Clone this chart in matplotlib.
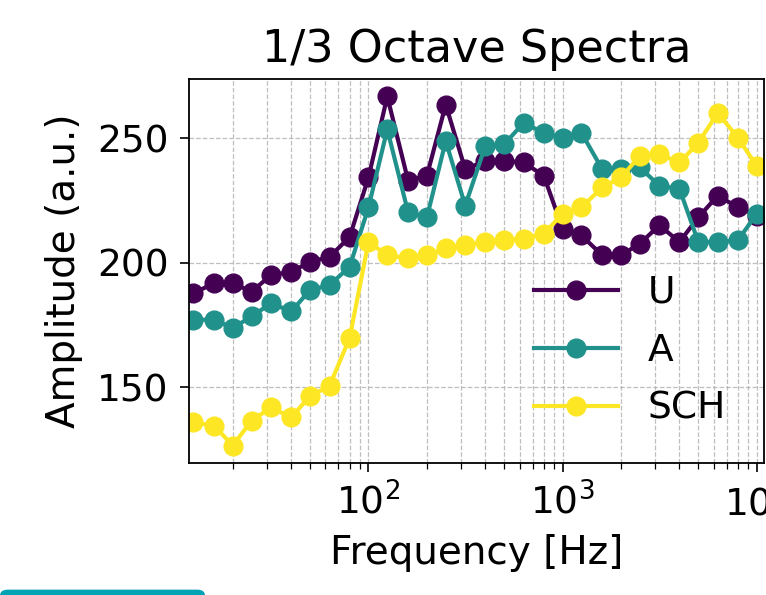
import numpy as np
import matplotlib
matplotlib.use("Agg")
import matplotlib.pyplot as plt
from matplotlib.patches import FancyBboxPatch

# 1/3 octave band centre frequencies
freqs = [12.5, 16, 20, 25, 31.5, 40, 50, 63, 80, 100, 125, 160, 200, 250, 315,
         400, 500, 630, 800, 1000, 1250, 1600, 2000, 2500, 3150, 4000, 5000,
         6300, 8000, 10000]

amp_u = [187.7, 191.7, 191.7, 188.4, 195.0, 196.3, 200.3, 202.3, 210.3, 234.2,
         266.7, 232.9, 234.9, 263.4, 237.5, 240.8, 240.8, 240.2, 234.9, 213.6,
         210.9, 203.0, 203.0, 207.6, 215.0, 208.3, 218.2, 226.9, 222.2, 218.9]
amp_a = [177.1, 177.1, 173.8, 178.4, 183.7, 180.4, 189.0, 191.0, 198.3, 222.2,
         253.5, 220.2, 218.2, 248.8, 222.9, 246.8, 247.5, 256.1, 252.1, 250.1,
         252.1, 237.5, 237.5, 238.2, 230.9, 229.6, 208.3, 208.3, 209.0, 219.6]
amp_sch = [135.9, 134.6, 126.6, 136.6, 141.9, 137.9, 146.5, 150.5, 169.8, 208.3,
           203.0, 201.7, 203.0, 205.7, 207.0, 208.3, 209.0, 209.6, 211.6, 219.6,
           222.2, 230.2, 234.2, 242.8, 243.5, 240.2, 248.1, 260.1, 250.1, 238.8]

labels = ["U", "A", "SCH"]
colors = ["#440154", "#21918c", "#fde725"]

plt.rcParams['font.size'] = 27

fig = plt.figure(figsize=(7.66, 5.95), dpi=100)
ax = fig.add_axes([189/766, 1 - 463/595, (764 - 189)/766, (463 - 79)/595])

for y, lab, c in zip([amp_u, amp_a, amp_sch], labels, colors):
    ax.plot(freqs, y, '-o', color=c, label=lab, lw=3, ms=13.5)

ax.set_xscale('log')
ax.set_xlim(11.9, 10900)
ax.set_yticks([150, 200, 250])
ax.grid(True, which='both', ls='--', color='#b0b0b0', lw=0.9, alpha=0.8)
ax.tick_params(which='major', length=6.5, width=1.2, pad=8, labelsize=27)
ax.tick_params(which='minor', length=4.3, width=0.9)
for s in ax.spines.values():
    s.set_linewidth(1.3)

ax.set_title('1/3 Octave Spectra', fontsize=32, pad=12)
ax.set_xlabel('Frequency [Hz]', fontsize=28, labelpad=8)
ax.set_ylabel('Amplitude (a.u.)', fontsize=28, labelpad=10)
ax.legend(loc='center left', bbox_to_anchor=(0.6, 0.292), frameon=False,
          fontsize=27, handlelength=2.24, handletextpad=0.8,
          borderpad=0, borderaxespad=0, labelspacing=0.59)

# cyan bar left over from the screenshot
fig.patches.append(FancyBboxPatch((0, -0.01), 205/766, 0.019,
                                  boxstyle='round,pad=0,rounding_size=0.01',
                                  transform=fig.transFigure, fc='#00a3b4',
                                  ec='none'))

fig.savefig('out.png', dpi=100)
